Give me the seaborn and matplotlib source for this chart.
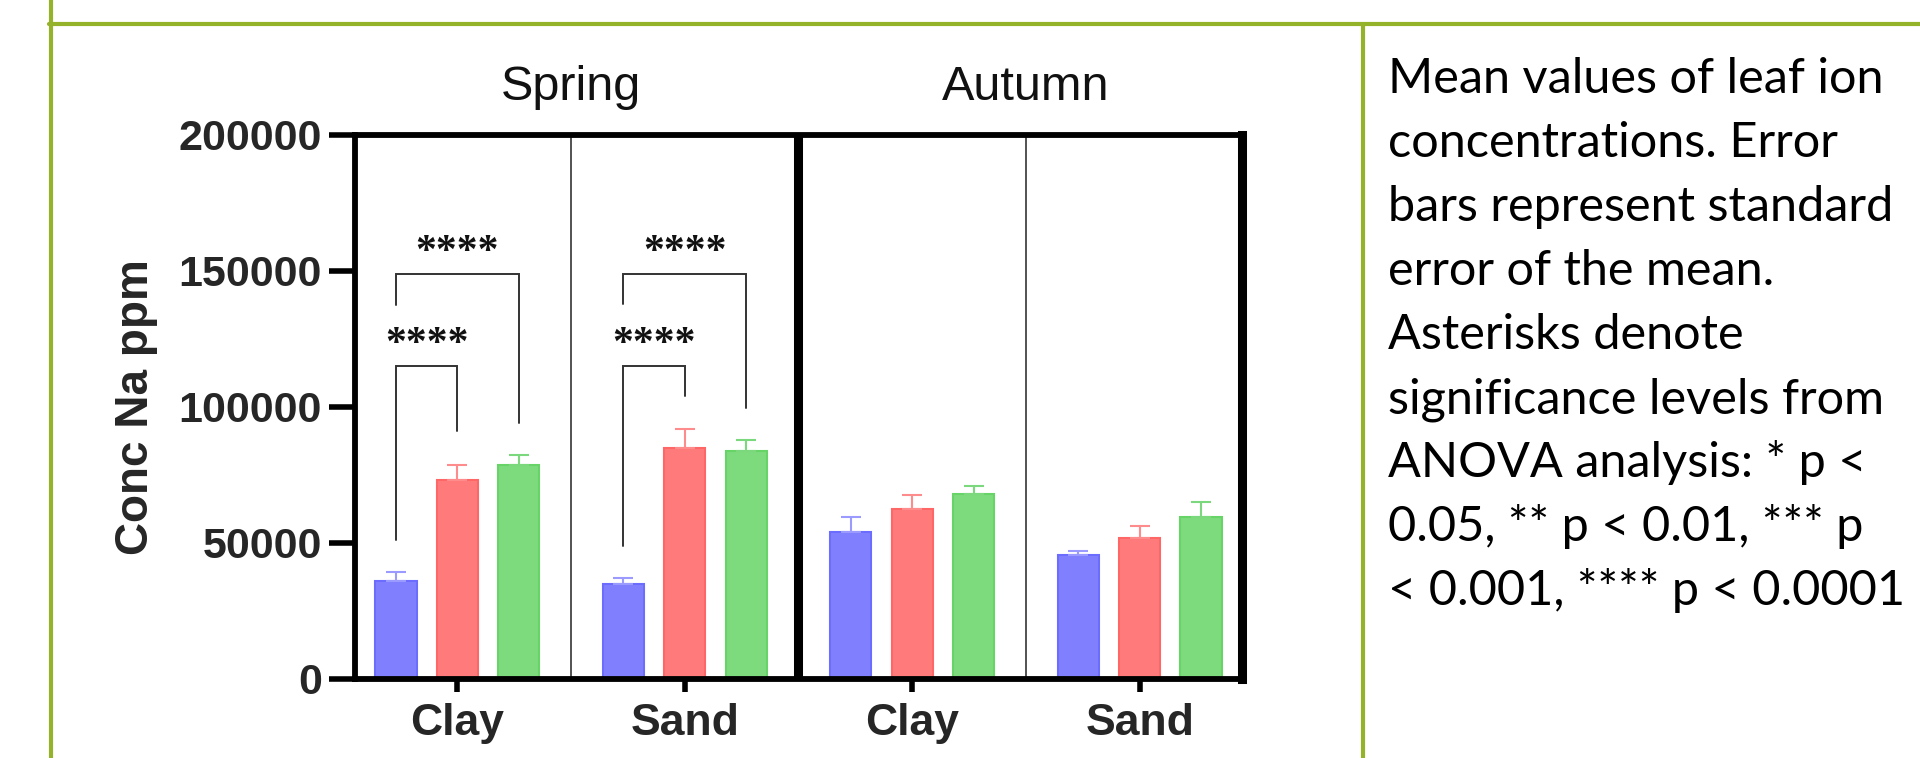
import numpy as np
import pandas as pd
import matplotlib
matplotlib.use("Agg")
import matplotlib.pyplot as plt
import matplotlib.transforms as mtransforms
from matplotlib.lines import Line2D
import seaborn as sns

sns.set_theme(style="white")
plt.rcParams['font.family'] = ['Liberation Sans', 'DejaVu Sans']

# data
groups = ["Spring Clay", "Spring Sand", "Autumn Clay", "Autumn Sand"]
group_labels = ["Clay", "Sand", "Clay", "Sand"]
treatments = ["A", "B", "C"]
mean_a = [36000, 34800, 54000, 45600]
mean_b = [73000, 84800, 62500, 51800]
mean_c = [78500, 84000, 68000, 59400]
sem_a = [3500, 2200, 5700, 1500]
sem_b = [5500, 7000, 5000, 4500]
sem_c = [4000, 3800, 3000, 5500]
season_names = ["Spring", "Autumn"]
yticks = [0, 50000, 100000, 150000, 200000]

# significance brackets: group, hue i, hue j, bracket top, left leg end, right leg end, label, label y
brackets = [
    (0, 0, 1, 115000, 51000, 91000, "****", 119000),
    (0, 0, 2, 149000, 137500, 94000, "****", 153000),
    (1, 0, 1, 115000, 49000, 104000, "****", 119000),
    (1, 0, 2, 149000, 138000, 99600, "****", 153000),
]

caption = ["Mean values of leaf ion",
           "concentrations. Error",
           "bars represent standard",
           "error of the mean.",
           "Asterisks denote",
           "significance levels from",
           "ANOVA analysis: * p <",
           "0.05, ** p < 0.01, *** p",
           "< 0.001, **** p < 0.0001"]

fills = ["#8080FF", "#FF7B7B", "#7DDB7D"]
edges = ["#6C6CFF", "#FF6666", "#66D466"]
errcols = ["#9A9AFF", "#FF8C8C", "#7CD87C"]

df = pd.DataFrame({
    "group": np.repeat(groups, 3),
    "treatment": treatments * 4,
    "mean": [v for trio in zip(mean_a, mean_b, mean_c) for v in trio],
})
sems = [sem_a, sem_b, sem_c]

fig = plt.figure(figsize=(19.2, 7.58), dpi=100)
ax = fig.add_axes([355 / 1920, 1 - 679 / 758, 887 / 1920, 544 / 758])

sns.barplot(data=df, x="group", y="mean", hue="treatment", order=groups,
            hue_order=treatments, palette=fills, width=0.81, gap=0.33,
            errorbar=None, legend=False, ax=ax, saturation=1)

centers = {}
bar_conts = list(ax.containers)
for k, cont in enumerate(bar_conts):
    for g, patch in enumerate(cont.patches):
        patch.set_edgecolor(edges[k])
        patch.set_linewidth(1.5)
        xc = patch.get_x() + patch.get_width() / 2
        h = patch.get_height()
        centers[(g, k)] = xc
        ax.errorbar(xc, h, yerr=[[0], [sems[k][g]]], fmt="none",
                    ecolor=errcols[k], elinewidth=1.5, capsize=7, capthick=1.5,
                    zorder=1)

# brackets
for g, i, j, top, lend, rend, lab, ly in brackets:
    x1, x2 = centers[(g, i)], centers[(g, j)]
    ax.plot([x1, x1, x2, x2], [lend, top, top, rend], color="#333333", lw=1.4,
            solid_joinstyle="miter")
    ax.text((x1 + x2) / 2, ly, lab, ha="center", va="baseline",
            fontsize=30, fontweight="bold", family="Liberation Serif",
            color="#111111")

ax.set_xlim(-0.45, 3.45)
ax.set_ylim(0, 200000)
ax.set_yticks(yticks)
ax.set_yticklabels([str(v) for v in yticks], fontsize=31, fontweight="bold")
ax.set_xticks(range(4))
ax.set_xticklabels(group_labels, fontsize=32, fontweight="bold")
ax.set_xlabel("")
ax.set_ylabel("Conc Na ppm", fontsize=33, fontweight="bold")
ax.yaxis.set_label_coords(-0.222, 0.5)

ax.tick_params(axis="y", direction="out", length=19, width=4, pad=5, color="black",
               left=True)
ax.tick_params(axis="x", direction="out", length=9, width=4, pad=8, color="black",
               bottom=True)
for side in ["left", "bottom", "top"]:
    ax.spines[side].set_visible(True)
    ax.spines[side].set_color("black")
    ax.spines[side].set_linewidth(4.2)
ax.spines["right"].set_visible(True)
ax.spines["right"].set_color("black")
ax.spines["right"].set_linewidth(6.5)

# panel dividers
ax.axvline(0.5, color="#444444", lw=1.3)
ax.axvline(2.5, color="#444444", lw=1.3)
ax.axvline(1.5, color="black", lw=6.5)

trans = mtransforms.blended_transform_factory(ax.transData, ax.transAxes)
for xpos, name in zip([0.5, 2.5], season_names):
    ax.text(xpos, 1.065, name, transform=trans, ha="center", va="baseline",
            fontsize=35, color="#111111")

# green frame
green = "#94B32A"
fig.add_artist(Line2D([49 / 1920, 1], [1 - 24 / 758, 1 - 24 / 758], color=green, lw=3))
fig.add_artist(Line2D([51 / 1920, 51 / 1920], [0, 1], color=green, lw=3))
fig.add_artist(Line2D([1363 / 1920, 1363 / 1920], [0, 1 - 24 / 758], color=green, lw=3))

# caption
for i, line in enumerate(caption):
    y = 93 + 64 * i
    fig.text(1388 / 1920, 1 - y / 758, line, ha="left", va="baseline",
             fontsize=35, family="Lato", color="black")

fig.savefig("out.png", dpi=100)
